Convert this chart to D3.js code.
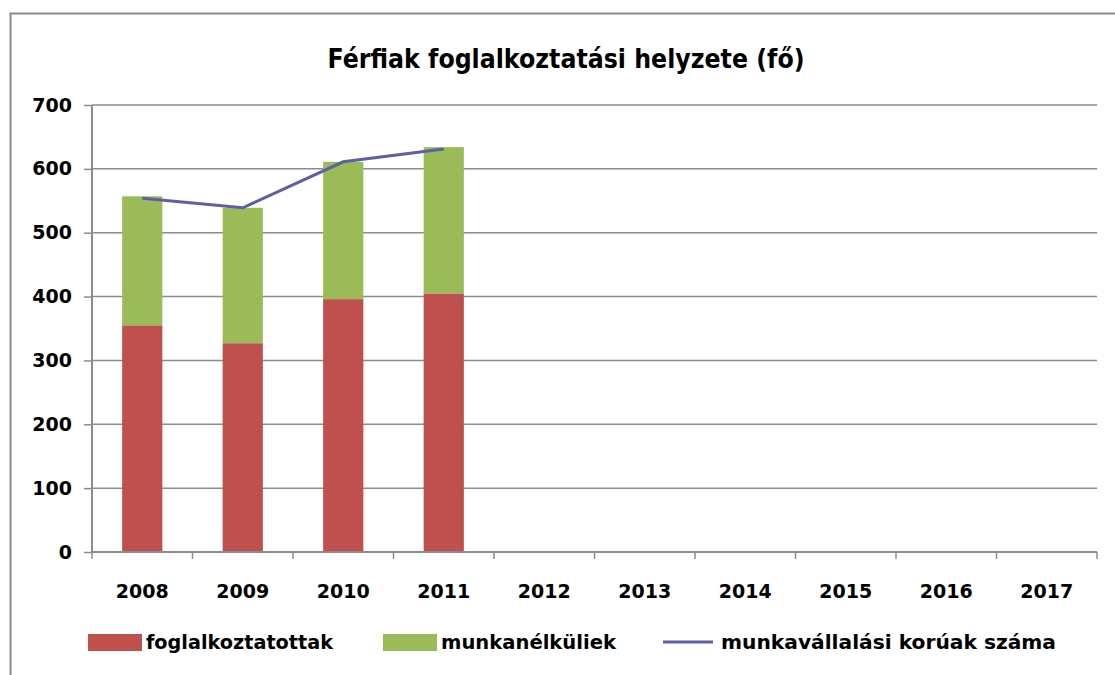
<!DOCTYPE html>
<html>
<head>
<meta charset="utf-8">
<script src="https://cdn.jsdelivr.net/npm/d3@7"></script>
<style>
body { margin: 0; background: #fff; }
text { font-family: "DejaVu Sans", Verdana, sans-serif; font-weight: bold; fill: #000; }
</style>
</head>
<body>
<div id="chart"></div>
<script>
// data
var years = ["2008", "2009", "2010", "2011", "2012", "2013", "2014", "2015", "2016", "2017"];
var employed = [355, 327, 396, 405, null, null, null, null, null, null];
var unemployed = [202, 212, 215, 229, null, null, null, null, null, null];
var workingAge = [554, 539, 611, 631, null, null, null, null, null, null];
var yTicks = [0, 100, 200, 300, 400, 500, 600, 700];

var svgWidth = 1115, svgHeight = 675;
var margin = {top: 105, left: 92, right: 18, bottom: 123};
var width = svgWidth - margin.left - margin.right;
var height = svgHeight - margin.top - margin.bottom;

var svg = d3.select("#chart").append("svg")
	.attr("width", svgWidth)
	.attr("height", svgHeight);

// outer frame
svg.append("rect")
	.attr("x", 10.5).attr("y", 13.5)
	.attr("width", 1120).attr("height", 670)
	.attr("fill", "none")
	.attr("stroke", "#8c8c8c")
	.attr("stroke-width", 2);

svg.append("text")
	.attr("x", 566).attr("y", 68)
	.attr("text-anchor", "middle")
	.attr("textLength", 477)
	.attr("lengthAdjust", "spacingAndGlyphs")
	.style("font-size", "26px")
	.text("Férfiak foglalkoztatási helyzete (fő)");

var chartGroup = svg.append("g")
	.attr("transform", `translate(${margin.left}, ${margin.top})`);

var xScale = d3.scaleBand()
	.domain(years)
	.range([0, width])
	.paddingInner(0.6)
	.paddingOuter(0.3);

var yScale = d3.scaleLinear()
	.domain([0, 700])
	.range([height, 0]);

// gridlines
chartGroup.append("g")
	.selectAll("line")
	.data(yTicks.filter(d => d > 0))
	.enter()
	.append("line")
	.attr("x1", 0).attr("x2", width)
	.attr("y1", d => yScale(d)).attr("y2", d => yScale(d))
	.attr("stroke", "#8c8c8c")
	.attr("stroke-width", 1.5);

// stacked bars
var stackData = years.map((y, i) => ({year: y, employed: employed[i], unemployed: unemployed[i]}))
	.filter(d => d.employed != null);

var stack = d3.stack().keys(["employed", "unemployed"]);
var colors = {employed: "#c0504d", unemployed: "#9bbb59"};

chartGroup.selectAll(".series")
	.data(stack(stackData))
	.enter()
	.append("g")
	.attr("fill", d => colors[d.key])
	.selectAll("rect")
	.data(d => d)
	.enter()
	.append("rect")
	.attr("x", d => xScale(d.data.year))
	.attr("width", xScale.bandwidth())
	.attr("y", d => yScale(d[1]))
	.attr("height", d => yScale(d[0]) - yScale(d[1]));

// line
var lineData = years.map((y, i) => ({year: y, v: workingAge[i]})).filter(d => d.v != null);
var line = d3.line()
	.x(d => xScale(d.year) + xScale.bandwidth() / 2)
	.y(d => yScale(d.v));

chartGroup.append("path")
	.datum(lineData)
	.attr("d", line)
	.attr("fill", "none")
	.attr("stroke", "#5f5fa6")
	.attr("stroke-width", 3);

// y axis
var leftAxis = d3.axisLeft(yScale).tickValues(yTicks).tickSize(8).tickPadding(12).tickFormat(d3.format("d"));
var yAxis = chartGroup.append("g").call(leftAxis);
yAxis.select(".domain").attr("stroke", "#8c8c8c").attr("stroke-width", 2).attr("d", `M0,0V${height}`);
yAxis.selectAll(".tick line").attr("stroke", "#8c8c8c").attr("stroke-width", 1.5);
yAxis.selectAll("text").style("font-size", "19px").attr("font-family", null);

// x axis with ticks at category boundaries
var xAxis = chartGroup.append("g").attr("transform", `translate(0, ${height})`);
xAxis.append("line")
	.attr("x1", 0).attr("x2", width)
	.attr("stroke", "#8c8c8c").attr("stroke-width", 2);
var step = xScale.step();
xAxis.selectAll(".bound")
	.data(d3.range(years.length + 1))
	.enter()
	.append("line")
	.attr("x1", i => i * step).attr("x2", i => i * step)
	.attr("y1", 0).attr("y2", 7)
	.attr("stroke", "#8c8c8c").attr("stroke-width", 1.5);
xAxis.selectAll(".lbl")
	.data(years)
	.enter()
	.append("text")
	.attr("x", d => xScale(d) + xScale.bandwidth() / 2)
	.attr("y", 46)
	.attr("text-anchor", "middle")
	.style("font-size", "19px")
	.text(d => d);

// legend
var legend = svg.append("g").attr("transform", "translate(0, 642)");
var legendItems = [
	{label: "foglalkoztatottak", type: "rect", color: "#c0504d", x: 88, tl: 187},
	{label: "munkanélküliek", type: "rect", color: "#9bbb59", x: 383, tl: 175},
	{label: "munkavállalási korúak száma", type: "line", color: "#5f5fa6", x: 663, tl: 335}
];
legendItems.forEach(function(item) {
	if (item.type === "rect") {
		legend.append("rect")
			.attr("x", item.x).attr("y", -8)
			.attr("width", 54).attr("height", 17)
			.attr("fill", item.color);
	} else {
		legend.append("line")
			.attr("x1", item.x).attr("x2", item.x + 50)
			.attr("stroke", item.color).attr("stroke-width", 3);
	}
	legend.append("text")
		.attr("x", item.x + 58)
		.attr("y", 7)
		.attr("textLength", item.tl)
		.attr("lengthAdjust", "spacingAndGlyphs")
		.style("font-size", "19px")
		.text(item.label);
});
</script>
</body>
</html>
